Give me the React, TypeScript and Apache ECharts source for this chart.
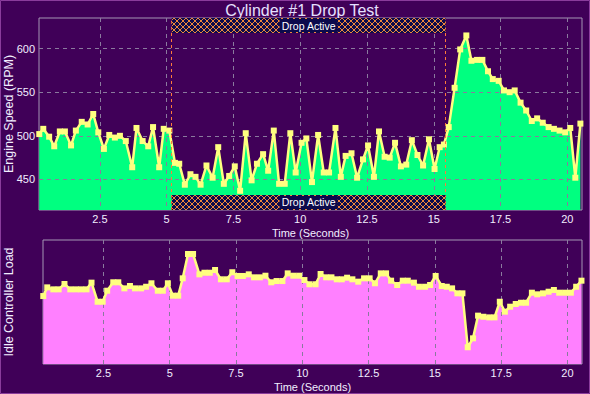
import React, { useEffect, useRef } from "react";
import * as echarts from "echarts";

const TITLE = "Cylinder #1 Drop Test";
const X_NAME = "Time (Seconds)";
const TOP_Y_NAME = "Engine Speed (RPM)";
const BOT_Y_NAME = "Idle Controller Load";
const DROP_LABEL = "Drop Active";

const xTicks = [2.5, 5, 7.5, 10, 12.5, 15, 17.5, 20];
const rpmTicks = [450, 500, 550, 600];

const dropStart = 5.19;
const dropEnd = 15.44;

const topTime = [0.23, 0.38, 0.6, 0.79, 1.0, 1.19, 1.42, 1.6, 1.82, 2.04, 2.25, 2.44, 2.65, 2.85, 3.06, 3.25, 3.47, 3.71, 3.87, 4.1, 4.31, 4.49, 4.72, 4.89, 5.1, 5.31, 5.47, 5.68, 5.89, 6.08, 6.27, 6.49, 6.72, 6.93, 7.14, 7.34, 7.55, 7.75, 7.96, 8.18, 8.38, 8.61, 8.8, 9.01, 9.21, 9.42, 9.63, 9.83, 10.05, 10.23, 10.44, 10.67, 10.88, 11.08, 11.32, 11.52, 11.7, 11.92, 12.13, 12.35, 12.54, 12.76, 12.95, 13.16, 13.35, 13.55, 13.77, 13.97, 14.18, 14.39, 14.6, 14.82, 15.03, 15.22, 15.38, 15.56, 15.78, 15.99, 16.22, 16.41, 16.62, 16.82, 17.03, 17.21, 17.43, 17.63, 17.84, 18.03, 18.25, 18.46, 18.67, 18.87, 19.08, 19.3, 19.5, 19.71, 19.92, 20.11, 20.3, 20.49];
const topRpm = [502, 508, 499, 488, 505, 505, 489, 506, 516, 513, 525, 504, 485, 501, 498, 500, 494, 464, 509, 494, 488, 510, 464, 508, 506, 469, 468, 444, 456, 453, 444, 466, 452, 487, 445, 454, 465, 437, 503, 449, 468, 479, 460, 506, 445, 445, 503, 458, 492, 497, 447, 501, 458, 458, 509, 453, 477, 480, 452, 473, 489, 453, 505, 476, 475, 492, 465, 467, 495, 478, 466, 496, 462, 487, 490, 510, 555, 599, 615, 586, 587, 587, 574, 565, 563, 552, 550, 552, 538, 529, 517, 520, 515, 510, 508, 506, 504, 509, 452, 514];

const botTime = [0.23, 0.38, 0.61, 0.81, 1.03, 1.25, 1.46, 1.66, 1.86, 2.05, 2.28, 2.47, 2.64, 2.87, 3.06, 3.29, 3.5, 3.69, 3.92, 4.11, 4.31, 4.55, 4.74, 4.93, 5.12, 5.32, 5.49, 5.69, 5.88, 6.12, 6.31, 6.51, 6.71, 6.93, 7.15, 7.36, 7.56, 7.76, 7.98, 8.18, 8.4, 8.61, 8.83, 9.03, 9.25, 9.45, 9.66, 9.88, 10.08, 10.27, 10.5, 10.69, 10.9, 11.1, 11.3, 11.49, 11.69, 11.89, 12.11, 12.33, 12.54, 12.74, 12.96, 13.16, 13.35, 13.58, 13.79, 13.98, 14.21, 14.4, 14.63, 14.82, 15.03, 15.26, 15.45, 15.65, 15.85, 16.04, 16.24, 16.44, 16.63, 16.83, 17.05, 17.25, 17.45, 17.64, 17.84, 18.05, 18.25, 18.44, 18.66, 18.86, 19.08, 19.29, 19.49, 19.69, 19.91, 20.13, 20.33, 20.53];
const botLoad = [54.8, 61.8, 60.2, 60.2, 64.5, 60.2, 60.2, 60.2, 60.2, 65.6, 50.2, 50.2, 59.1, 65.9, 65.9, 61.0, 62.9, 61.0, 61.0, 62.3, 65.1, 59.1, 59.1, 65.1, 55.1, 55.1, 69.1, 88.7, 88.7, 72.3, 73.6, 73.6, 75.8, 68.3, 68.3, 74.0, 71.0, 71.0, 72.3, 69.9, 69.9, 71.2, 65.9, 66.9, 66.9, 73.1, 71.2, 71.2, 67.7, 64.3, 64.3, 72.6, 69.9, 69.9, 68.3, 68.3, 69.6, 68.3, 66.4, 69.1, 69.1, 65.1, 73.1, 73.1, 67.2, 63.7, 67.2, 67.2, 65.6, 62.3, 62.3, 63.7, 71.0, 62.9, 62.3, 61.0, 57.0, 57.0, 13.5, 20.7, 39.0, 38.1, 37.6, 37.6, 50.2, 42.2, 46.2, 48.4, 49.4, 49.4, 57.5, 56.2, 57.0, 58.3, 59.7, 57.5, 57.5, 57.5, 62.3, 67.2];

const FONT = '"Liberation Sans", Arial, sans-serif';
const BG = "#400058";
const TXT = "#f2eeff";
const GRID_LINE = "#8a7a9e";
const FRAME = "#a496b4";
const LINE_YELLOW = "#ffff80";

export default function App() {
  const ref = useRef<HTMLDivElement>(null);

  useEffect(() => {
    const chart = echarts.init(ref.current!, null, { renderer: "svg" });
    const hatchSvg =
      "<svg xmlns='http://www.w3.org/2000/svg' width='6' height='6'>" +
      "<rect width='6' height='6' fill='#0c0a4c'/>" +
      "<path d='M-1 -1L7 7M7 -1L-1 7' stroke='#f0883a' stroke-width='1'/></svg>";
    const hatch: any = {
      image: "data:image/svg+xml;base64," + btoa(hatchSvg),
      repeat: "repeat",
      imageWidth: 6,
      imageHeight: 6,
    };

    const xAxisBase = (gridIndex: number) => ({
      type: "value",
      gridIndex,
      min: 0.22,
      max: 20.55,
      z: 2,
      name: X_NAME,
      nameLocation: "middle",
      nameGap: 17,
      nameMoveOverlap: false,
      nameTextStyle: { color: TXT, fontSize: 11, fontFamily: FONT },
      axisLine: { show: false },
      axisTick: { show: false, customValues: xTicks },
      axisLabel: {
        customValues: xTicks,
        color: TXT,
        fontSize: 11,
        fontFamily: FONT,
        margin: 3,
        formatter: (v: number) => String(v),
      },
      splitLine: { show: true, lineStyle: { color: GRID_LINE, type: [4, 4], width: 1 } },
    });

    const topPoints = topTime.map((t, i) => [t, topRpm[i]]);
    const botPoints = botTime.map((t, i) => [t, botLoad[i]]);

    const option: any = {
      animation: false,
      backgroundColor: BG,
      textStyle: { fontFamily: FONT },
      graphic: [
        {
          type: "text",
          x: 302,
          y: 10,
          style: {
            text: TITLE,
            fill: "#e6e0ff",
            font: '16px "Liberation Sans", Arial, sans-serif',
            align: "center",
            verticalAlign: "middle",
          },
          silent: true,
        },
        {
          type: "rect",
          shape: { x: 0.5, y: 0.5, width: 589, height: 393 },
          style: { fill: "none", stroke: "#8a3c9c", lineWidth: 1 },
          silent: true,
          z: 100,
        },
      ],
      grid: [
        { left: 39, top: 18, width: 543, height: 192, show: true, borderColor: FRAME, borderWidth: 1, outerBoundsMode: "none" },
        { left: 43, top: 240, width: 539, height: 124, show: true, borderColor: FRAME, borderWidth: 1, outerBoundsMode: "none" },
      ],
      xAxis: [xAxisBase(0), xAxisBase(1)],
      yAxis: [
        {
          type: "value",
          gridIndex: 0,
          min: 415,
          max: 635,
          z: 2,
          name: TOP_Y_NAME,
          nameLocation: "middle",
          nameRotate: 90,
          nameGap: 24,
          nameMoveOverlap: false,
          nameTextStyle: { color: TXT, fontSize: 12.5, fontFamily: FONT },
          axisLine: { show: false },
          axisTick: { show: false, customValues: rpmTicks },
          axisLabel: { customValues: rpmTicks, color: TXT, fontSize: 11, fontFamily: FONT, margin: 4 },
          splitLine: { show: true, lineStyle: { color: GRID_LINE, type: [4, 4], width: 1 } },
        },
        {
          type: "value",
          gridIndex: 1,
          min: 0,
          max: 100,
          z: 2,
          name: BOT_Y_NAME,
          nameLocation: "middle",
          nameRotate: 90,
          nameGap: 28,
          nameMoveOverlap: false,
          nameTextStyle: { color: TXT, fontSize: 12.5, fontFamily: FONT },
          axisLine: { show: false },
          axisTick: { show: false },
          axisLabel: { show: false },
          splitLine: { show: false },
        },
      ],
      series: [
        {
          type: "line",
          xAxisIndex: 0,
          yAxisIndex: 0,
          data: topPoints,
          symbol: "none",
          lineStyle: { width: 0, opacity: 0 },
          areaStyle: { color: "#00ff80", opacity: 1, origin: "start" },
          z: 1,
          silent: true,
        },
        {
          type: "line",
          xAxisIndex: 1,
          yAxisIndex: 1,
          data: botPoints,
          symbol: "none",
          lineStyle: { width: 0, opacity: 0 },
          areaStyle: { color: "#ff80ff", opacity: 1, origin: "start" },
          z: 1,
          silent: true,
        },
        {
          type: "line",
          xAxisIndex: 0,
          yAxisIndex: 0,
          data: topPoints,
          symbol: "rect",
          symbolSize: 6,
          showAllSymbol: true,
          itemStyle: { color: LINE_YELLOW },
          lineStyle: { color: LINE_YELLOW, width: 2.5 },
          z: 3,
        },
        {
          type: "line",
          xAxisIndex: 1,
          yAxisIndex: 1,
          data: botPoints,
          symbol: "rect",
          symbolSize: 6,
          showAllSymbol: true,
          itemStyle: { color: LINE_YELLOW },
          lineStyle: { color: LINE_YELLOW, width: 2.5 },
          z: 3,
        },
        {
          type: "line",
          xAxisIndex: 0,
          yAxisIndex: 0,
          data: [],
          z: 6,
          markLine: {
            silent: true,
            symbol: "none",
            z: 6,
            label: { show: false },
            lineStyle: { color: "#ff7a3a", type: [3, 3], width: 1 },
            data: [{ xAxis: dropStart }, { xAxis: dropEnd }],
          },
          markArea: {
            silent: true,
            z: 8,
            itemStyle: { color: hatch },
            label: {
              show: true,
              position: "inside",
              color: "#ffffff",
              fontSize: 10.5,
              fontFamily: FONT,
              backgroundColor: "#0c0a4c",
              padding: [1, 2],
            },
            data: [
              [
                { name: DROP_LABEL, xAxis: dropStart, yAxis: 617.8 },
                { xAxis: dropEnd, yAxis: 635 },
              ],
              [
                { name: DROP_LABEL, xAxis: dropStart, yAxis: 415 },
                { xAxis: dropEnd, yAxis: 432.2 },
              ],
            ],
          },
        },
      ],
    };

    chart.setOption(option);
    return () => chart.dispose();
  }, []);

  return (
    <div
      ref={ref}
      style={{ position: "fixed", left: 0, top: 0, width: 590, height: 394 }}
    />
  );
}
